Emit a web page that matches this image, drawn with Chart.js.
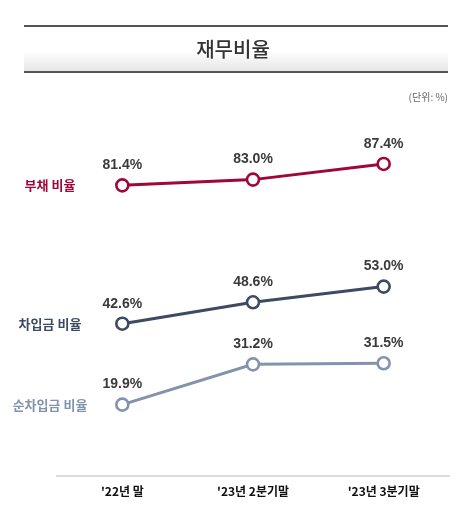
<!DOCTYPE html>
<html><head><meta charset="utf-8">
<script src="https://cdn.jsdelivr.net/npm/chart.js@4/dist/chart.umd.min.js"></script>
<style>
html,body{margin:0;padding:0;background:#fff;width:464px;height:523px;overflow:hidden;font-family:"Noto Sans CJK KR","Liberation Sans",sans-serif;}
#wrap{position:absolute;left:0;top:0;width:464px;height:523px;}
</style></head>
<body>
<div id="wrap"><canvas id="c" width="464" height="523"></canvas></div>
<script>
const categories = ["'22년 말", "'23년 2분기말", "'23년 3분기말"];
const seriesNames = ["부채 비율", "차입금 비율", "순차입금 비율"];
const debtRatio = [81.4, 83.0, 87.4];
const borrowingRatio = [42.6, 48.6, 53.0];
const netBorrowingRatio = [19.9, 31.2, 31.5];
const colors = ["#a0063a", "#3c4a62", "#8293ad"];
const titleText = "재무비율";
const unitText = "(단위: %)";

const overlay = {
  id: 'overlay',
  beforeDraw(chart) {
    const ctx = chart.ctx;
    ctx.save();
    const g = ctx.createLinearGradient(0, 26, 0, 72);
    g.addColorStop(0, '#ffffff');
    g.addColorStop(0.55, '#ffffff');
    g.addColorStop(1, '#e4e4e4');
    ctx.fillStyle = g;
    ctx.fillRect(24, 26, 424, 46);
    ctx.fillStyle = '#555';
    ctx.fillRect(24, 25, 424, 2);
    ctx.fillRect(24, 71, 424, 2);
    ctx.fillStyle = '#333';
    ctx.font = '500 20px "Noto Sans CJK KR"';
    ctx.textAlign = 'center';
    ctx.textBaseline = 'middle';
    ctx.fillText(titleText, 233, 49);
    ctx.fillStyle = '#666';
    ctx.font = '10px "Noto Sans CJK KR"';
    ctx.textAlign = 'right';
    ctx.fillText(unitText, 448, 97);
    ctx.restore();
  },
  afterDatasetsDraw(chart) {
    const ctx = chart.ctx;
    const ys = chart.scales.y;
    ctx.save();
    chart.data.datasets.forEach((ds, i) => {
      const meta = chart.getDatasetMeta(i);
      ctx.fillStyle = '#3a3a3a';
      ctx.font = 'bold 14px "Liberation Sans Narrow", "Liberation Sans"';
      ctx.textAlign = 'center';
      ctx.textBaseline = 'middle';
      meta.data.forEach((pt, j) => {
        ctx.fillText(ds.data[j].toFixed(1) + '%', pt.x, pt.y - 20);
      });
      ctx.fillStyle = ds.borderColor;
      ctx.font = 'bold 13px "Noto Sans CJK KR"';
      ctx.textAlign = 'center';
      ctx.fillText(ds.label, 50, ys.getPixelForValue(ds.data[0]));
    });
    ctx.restore();
  }
};

const mk = (label, data, color) => ({
  label, data,
  borderColor: color,
  borderWidth: 3,
  pointRadius: 6,
  pointHoverRadius: 6,
  pointBorderWidth: 2.6,
  pointBackgroundColor: '#fff',
  pointBorderColor: color,
  tension: 0,
  clip: false
});

new Chart(document.getElementById('c'), {
  type: 'line',
  data: {
    labels: categories,
    datasets: [
      mk(seriesNames[0], debtRatio, colors[0]),
      mk(seriesNames[1], borrowingRatio, colors[1]),
      mk(seriesNames[2], netBorrowingRatio, colors[2])
    ]
  },
  options: {
    responsive: false,
    animation: false,
    devicePixelRatio: 1,
    layout: { padding: { left: 57, right: 15, top: 119, bottom: 15 } },
    plugins: { legend: { display: false }, tooltip: { enabled: false } },
    scales: {
      x: {
        offset: true,
        grid: { display: false, drawTicks: false },
        border: { display: true, color: '#dcdcdc', width: 2 },
        ticks: { color: '#111', padding: 9, font: { family: '"Noto Sans CJK KR"', weight: 'bold', size: 12 } }
      },
      y: { display: false, min: 0, max: 100 }
    }
  },
  plugins: [overlay]
});
</script>
</body></html>
